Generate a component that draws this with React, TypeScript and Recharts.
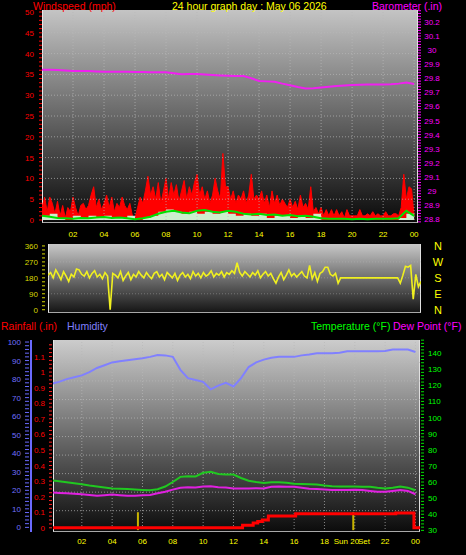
import React from 'react';
import { ComposedChart, Line, Area, XAxis, YAxis, ReferenceLine } from 'recharts';

// wind gust (mph), one value every 10 minutes from 00:00
const gust = [
  3, 5.5, 2, 5.5, 4, 1.5,
  4.5, 1, 3.5, 0.5, 3, 2,
  5.5, 3, 1, 3.5, 4, 2.5,
  3.5, 6, 8, 3, 5, 2.5,
  4, 6, 3, 5.5, 2, 4,
  3, 5.5, 3.5, 2.5, 4, 1,
  0.5, 3, 5.5, 4, 7, 10.5,
  6, 8, 5, 9, 4, 7,
  10, 5, 9, 6, 8.5, 4.5,
  7, 9.5, 5, 8, 6, 9,
  11, 6, 8, 5, 7, 4,
  6, 10, 7, 5, 16, 8,
  8, 5, 7, 4, 6, 5,
  7, 4, 6, 11, 5, 6,
  5, 7, 4, 6, 3, 7,
  4, 6, 3.5, 5, 4, 3,
  5, 3, 4.5, 2.5, 6, 3,
  4, 2.5, 8, 2, 3, 1.5,
  3, 1, 2.5, 1, 2.5, 1,
  2.5, 1, 2, 0.5, 2.5, 1,
  1, 1, 1, 2.5, 1, 1,
  1.5, 1, 2, 1, 1.5, 1,
  1, 2, 1, 1, 1.5, 1.5,
  1, 3, 11, 5, 8, 7.5,
  1,
];

// wind speed and average (mph), every 30 minutes
const windSpeed = [
  1, 1.5, 0.5, 0, 1, 0.5, 1, 0.5, 1, 0.5, 0.5, 1, 0, 0.5, 1, 2, 2.5, 2, 1.5, 2, 1.5, 2, 1.5, 2, 1.5,
  1, 1.5, 1, 1.5, 0.5, 1, 1, 0.5, 1, 0.5, 1.5, 0, 0, 0, 0, 0, 0, 0, 0, 0, 0, 0.5, 1.5, 0.5,
];
const windAvg = [
  1, 0.8, 0.5, 0.4, 0.3, 0.5, 0.4, 0.6, 0.7, 0.5, 0.6, 0.4, 0.2, 0.4, 0.8, 1.5, 2, 2.2, 1.8, 1.6, 2.2, 2.4, 2, 1.8, 2.2,
  2, 1.5, 1.3, 1.5, 1.2, 1.3, 1, 1.2, 0.9, 1, 0.8, 0.4, 0.3, 0.3, 0.3, 0.2, 0.3, 0.2, 0.3, 0.3, 0.3, 0.4, 2.2, 1,
];

// barometer (in), every 30 minutes
const barometer = [
  29.86, 29.86, 29.859, 29.856, 29.852, 29.852, 29.851, 29.849, 29.847, 29.847, 29.847, 29.846, 29.845,
  29.844, 29.843, 29.843, 29.843, 29.836, 29.828, 29.83, 29.831, 29.827, 29.823, 29.82, 29.818,
  29.817, 29.816, 29.8, 29.781, 29.778, 29.776, 29.762, 29.75, 29.738, 29.728, 29.73, 29.735,
  29.74, 29.745, 29.749, 29.752, 29.754, 29.755, 29.756, 29.756, 29.758, 29.762, 29.77, 29.76,
];

// wind direction (degrees), every 10 minutes
const windDir = [
  195, 210, 180, 225, 200, 170,
  215, 190, 160, 200, 185, 230,
  225, 200, 190, 215, 180, 205,
  220, 185, 200, 175, 210, 190,
  0, 205, 195, 180, 215, 165,
  190, 210, 170, 200, 185, 215,
  195, 180, 210, 190, 175, 205,
  215, 185, 200, 170, 210, 195,
  180, 205, 165, 195, 210, 185,
  200, 175, 215, 190, 205, 180,
  210, 190, 200, 220, 185, 205,
  195, 215, 185, 210, 200, 220,
  205, 265, 210, 190, 215, 200,
  185, 210, 195, 220, 180, 200,
  215, 190, 205, 175, 150, 185,
  210, 170, 195, 225, 190, 205,
  185, 200, 215, 190, 180, 250,
  175, 210, 160, 205, 215, 240,
  240, 200, 190, 205, 150, 180,
  180, 180, 180, 180, 180, 180,
  180, 180, 180, 180, 180, 180,
  180, 180, 180, 180, 180, 180,
  180, 180, 180, 180, 150, 195,
  245, 240, 250, 60, 200, 130,
  160,
];

// humidity (%), temperature and dew point (F), every 30 minutes
const humidity = [
  77.5, 78.5, 80, 81, 82, 83.8, 86, 87.5, 89, 89.6, 90.2, 90.7, 91.2, 92, 93, 92.8, 92, 85, 80.5, 79.5, 78.5, 74.5,
  76.5, 78, 76, 80.5, 86.5, 89, 90.5, 91.5, 92, 92, 92, 92.8, 93.3, 93.9, 94, 94, 94.2, 95, 95, 95, 95, 95, 95.2,
  96, 96, 96, 94.6,
];
const temperature = [
  61.1, 60.5, 59.8, 59.2, 58.6, 57.8, 57.2, 56.6, 56, 55.8, 55.6, 55.4, 55.1, 54.9, 55.5, 57.2, 60, 63.2, 63.6,
  63.5, 65.7, 66.3, 65, 64.6, 64.6, 62.5, 60.8, 60, 59.4, 59.8, 59.8, 59.5, 59, 58.8, 58.6, 58.4, 57.8, 57.4,
  57.3, 57.2, 57.2, 57.1, 57, 56.4, 56, 56.5, 57.2, 56.5, 54.9,
];
const dewPoint = [
  53.5, 53.2, 53, 52.7, 52.4, 52, 51.5, 51.8, 52.2, 51.8, 51.5, 51.5, 51.8, 52, 53, 54, 55.3, 56.5, 56.8, 56.6,
  57.2, 57.4, 56.8, 56.6, 56, 56, 56, 56.2, 56, 57, 57.2, 57, 57, 56.5, 55.8, 55.6, 55.3, 55, 55, 55, 55.2, 55,
  54.5, 54, 53.9, 54.5, 55, 54.5, 52.4,
];

// rainfall total (in) steps
const rainHours = [0, 12.6, 13.3, 13.6, 13.9, 14.3, 16.1, 22.7, 23.9, 24.3];
const rainTotal = [0, 0.017, 0.03, 0.04, 0.05, 0.075, 0.09, 0.095, 0, 0];
const sunMarks = [5.7, 19.9];

const hourTicks = [2, 4, 6, 8, 10, 12, 14, 16, 18, 20, 22, 24];
const windGrid = [5, 10, 15, 20, 25, 30, 35, 40, 45];
const dirGrid = [90, 180, 270];
const humGrid = [9, 19, 29, 39, 49, 59, 69, 79, 89];
const compass = ['N', 'E', 'S', 'W', 'N'];

const FONT = '"Liberation Sans", Arial, sans-serif';

const range = (a: number, b: number, s: number) => {
  const out: number[] = [];
  for (let i = 0; a + i * s <= b + 1e-9; i++) out.push(Math.round((a + i * s) * 1000) / 1000);
  return out;
};
const series = (vals: number[], step: number) => vals.map((v, i) => ({ h: i * step, v }));
const fmtHour = (h: number) => String(h % 24).padStart(2, '0');

const gustData = series(gust, 1 / 6);
const speedData = series(windSpeed, 0.5);
const avgData = series(windAvg, 0.5);
const baroData = series(barometer, 0.5);
const dirData = series(windDir, 1 / 6);
const humData = series(humidity, 0.5);
const tempData = series(temperature, 0.5);
const dewData = series(dewPoint, 0.5);
const rainData = rainHours.map((h, i) => ({ h, v: rainTotal[i] }));

const hourTick = (dy: number) => (p: any) => (
  <text x={p.x} y={p.y + dy} textAnchor="middle" fill="#ffff00" fontSize={8}>
    {fmtHour(p.payload.value)}
  </text>
);

const WindTick = (p: any) => {
  const v = p.payload.value;
  return (
    <g>
      <line x1={p.x - 3} x2={p.x} y1={p.y} y2={p.y} stroke="#ff0000" />
      {v % 5 === 0 && (
        <text x={p.x - 8} y={p.y + 3} textAnchor="end" fill="#ff0000" fontSize={8}>{v}</text>
      )}
    </g>
  );
};

const BaroTick = (p: any) => {
  const v = p.payload.value;
  const major = Math.round(v * 100) % 10 === 0;
  return (
    <g>
      <line x1={p.x} x2={p.x + 3} y1={p.y} y2={p.y} stroke="#ff00ff" />
      {major && (
        <text x={p.x + 14} y={p.y + 3} textAnchor="middle" fill="#ff00ff" fontSize={8}>
          {Math.round(v * 10) / 10}
        </text>
      )}
    </g>
  );
};

const DirTick = (p: any) => {
  const v = p.payload.value;
  return (
    <g>
      <line x1={p.x - 6} x2={p.x - 3} y1={p.y} y2={p.y} stroke="#d8d800" />
      {v % 90 === 0 && (
        <text x={p.x - 10} y={p.y + 3} textAnchor="end" fill="#d8d800" fontSize={8}>{v}</text>
      )}
    </g>
  );
};

const CompassTick = (p: any) => (
  <text x={p.x + 17} y={p.y + 4} textAnchor="middle" fill="#ffff00" fontSize={11}>
    {compass[Math.round(p.payload.value / 90)]}
  </text>
);

const RainTick = (p: any) => {
  const v = p.payload.value;
  const major = Math.round(v * 1000) % 100 === 0;
  return (
    <g>
      <line x1={p.x - 4} x2={p.x - 1} y1={p.y} y2={p.y} stroke="#ff2020" />
      {major && (
        <text x={p.x - 8} y={p.y + 3} textAnchor="end" fill="#ff0000" fontSize={8}>
          {Math.round(v * 10) / 10}
        </text>
      )}
    </g>
  );
};

const HumTick = (p: any) => {
  const v = p.payload.value;
  return (
    <g>
      <line x1={p.x - 6} x2={p.x - 2} y1={p.y} y2={p.y} stroke="#6a6aff" />
      {v % 10 === 0 && (
        <text x={p.x - 10} y={p.y + 3} textAnchor="end" fill="#7070ff" fontSize={8}>{v}</text>
      )}
    </g>
  );
};

const TempTick = (p: any) => {
  const v = p.payload.value;
  return (
    <g>
      <line x1={p.x + 1} x2={p.x + 4} y1={p.y} y2={p.y} stroke="#00e000" />
      {v % 10 === 0 && (
        <text x={p.x + 8} y={p.y + 3} textAnchor="start" fill="#00ff00" fontSize={8}>{v}</text>
      )}
    </g>
  );
};

const gridLine = { stroke: '#b8b8b8', strokeDasharray: '1 2', strokeOpacity: 0.7 };

const Title = (props: {
  left: number;
  top: number;
  color: string;
  size?: number;
  align?: 'left' | 'right';
  children: React.ReactNode;
}) => (
  <div
    style={{
      position: 'absolute',
      left: props.align === 'right' ? undefined : props.left,
      right: props.align === 'right' ? 466 - props.left : undefined,
      top: props.top,
      color: props.color,
      fontSize: props.size ?? 10.5,
      lineHeight: `${(props.size ?? 10.5) + 2}px`,
      whiteSpace: 'nowrap',
    }}
  >
    {props.children}
  </div>
);

const plotBg = (left: number, top: number, width: number, height: number, from: string, to: string) => (
  <div
    style={{
      position: 'absolute',
      left,
      top,
      width,
      height,
      boxSizing: 'border-box',
      background: `linear-gradient(${from}, ${to})`,
      borderLeft: '1px solid #e8e8e8',
      borderRight: '1px solid #e0e0e0',
      borderBottom: '1px solid #a8a8a8',
    }}
  />
);

const axisOff = { tickLine: false, axisLine: false, tickSize: 0, tickMargin: 0, interval: 0 as const };

export default function App() {
  return (
    <div
      style={{
        position: 'fixed',
        left: 0,
        top: 0,
        width: 466,
        height: 555,
        background: '#000',
        fontFamily: FONT,
        overflow: 'hidden',
      }}
    >
      {plotBg(42, 10, 376, 213, '#c4c4c4', '#0a0a0a')}
      {plotBg(48, 244, 373, 69, '#c8c8c8', '#161616')}
      {plotBg(53, 340, 367, 192, '#cccccc', '#0c0c0c')}

      <Title left={33} top={0} color="#ff0000">Windspeed (mph)</Title>
      <Title left={172} top={0} color="#ffff00">24 hour graph day : May 06 2026</Title>
      <Title left={372} top={0} color="#ff00ff">Barometer (.in)</Title>
      <Title left={1} top={320} color="#ff0000">Rainfall (.in)</Title>
      <Title left={67} top={320} color="#8080ff">Humidity</Title>
      <Title left={311} top={320} color="#00ff00">Temperature (°F)</Title>
      <Title left={393} top={320} color="#ff00ff">Dew Point (°F)</Title>

      {/* wind speed + barometer */}
      <div style={{ position: 'absolute', left: 0, top: 0 }}>
        <ComposedChart width={466} height={245} margin={{ top: 10, right: 0, bottom: 0, left: 0 }}>
          <XAxis
            dataKey="h"
            type="number"
            domain={[0, 24.25]}
            allowDataOverflow
            ticks={hourTicks}
            height={22}
            tick={hourTick(14)}
            {...axisOff}
          />
          <YAxis
            type="number"
            domain={[-0.72, 50.48]}
            allowDataOverflow
            ticks={range(0, 50, 1)}
            width={42}
            tick={WindTick}
            {...axisOff}
          />
          <YAxis
            yAxisId="baro"
            orientation="right"
            type="number"
            domain={[28.772, 30.285]}
            allowDataOverflow
            ticks={range(28.78, 30.28, 0.02)}
            width={48}
            tick={BaroTick}
            {...axisOff}
          />
          {hourTicks.map((h) => (
            <ReferenceLine key={'v' + h} x={h} {...gridLine} />
          ))}
          {windGrid.map((w) => (
            <ReferenceLine key={'w' + w} y={w} {...gridLine} />
          ))}
          <Area
            data={gustData}
            dataKey="v"
            type="linear"
            stroke="#ff0000"
            fill="#ff0000"
            fillOpacity={1}
            baseValue={0}
            isAnimationActive={false}
          />
          <Area
            data={speedData}
            dataKey="v"
            type="stepAfter"
            stroke="none"
            fill="#cdeecd"
            fillOpacity={1}
            baseValue={0}
            isAnimationActive={false}
          />
          <Line data={avgData} dataKey="v" type="linear" stroke="#00e000" strokeWidth={2} dot={false} activeDot={false} isAnimationActive={false} />
          <Line data={baroData} yAxisId="baro" dataKey="v" type="linear" stroke="#f020f0" strokeWidth={2} dot={false} activeDot={false} isAnimationActive={false} />
        </ComposedChart>
      </div>

      {/* wind direction */}
      <div style={{ position: 'absolute', left: 0, top: 234 }}>
        <ComposedChart width={466} height={84} margin={{ top: 10, right: 0, bottom: 5, left: 0 }}>
          <XAxis dataKey="h" type="number" domain={[0, 24]} allowDataOverflow hide />
          <YAxis
            type="number"
            domain={[-18.5, 371]}
            allowDataOverflow
            ticks={range(0, 360, 22.5)}
            width={48}
            tick={DirTick}
            {...axisOff}
          />
          <YAxis
            yAxisId="cmp"
            orientation="right"
            type="number"
            domain={[-18.5, 371]}
            allowDataOverflow
            ticks={[0, 90, 180, 270, 360]}
            width={45}
            tick={CompassTick}
            {...axisOff}
          />
          {dirGrid.map((d) => (
            <ReferenceLine key={'d' + d} y={d} {...gridLine} strokeOpacity={0.4} />
          ))}
          <Line data={dirData} dataKey="v" type="linear" stroke="#f0f020" strokeWidth={1.6} dot={false} activeDot={false} isAnimationActive={false} />
        </ComposedChart>
      </div>

      {/* rain, humidity, temperature, dew point */}
      <div style={{ position: 'absolute', left: 0, top: 330 }}>
        <ComposedChart width={466} height={225} margin={{ top: 10, right: 0, bottom: 0, left: 0 }}>
          <XAxis
            dataKey="h"
            type="number"
            domain={[0.1, 24.3]}
            allowDataOverflow
            ticks={hourTicks}
            height={23}
            tick={hourTick(12)}
            {...axisOff}
          />
          <YAxis
            type="number"
            domain={[-0.027, 1.206]}
            allowDataOverflow
            ticks={range(0, 1.175, 0.025)}
            width={22}
            tick={RainTick}
            {...axisOff}
          />
          <YAxis
            yAxisId="hum"
            type="number"
            domain={[-2.5, 101.1]}
            allowDataOverflow
            ticks={range(0, 100, 2)}
            width={31}
            tick={HumTick}
            tickLine={false}
            tickSize={0}
            tickMargin={0}
            interval={0}
            axisLine={{ stroke: '#6a6aff', strokeWidth: 2 }}
          />
          <YAxis
            yAxisId="temp"
            orientation="right"
            type="number"
            domain={[29, 148.1]}
            allowDataOverflow
            ticks={range(30, 148, 2)}
            width={46}
            tick={TempTick}
            {...axisOff}
          />
          {hourTicks.map((h) => (
            <ReferenceLine key={'v' + h} x={h} {...gridLine} />
          ))}
          {humGrid.map((g) => (
            <ReferenceLine key={'g' + g} yAxisId="hum" y={g} {...gridLine} />
          ))}
          {sunMarks.map((s) => (
            <ReferenceLine
              key={'s' + s}
              segment={[{ x: s, y: -0.015 }, { x: s, y: 0.1 }]}
              stroke="#c8b400"
              strokeWidth={2}
            />
          ))}
          <Line data={humData} yAxisId="hum" dataKey="v" type="linear" stroke="#8080ff" strokeWidth={2} dot={false} activeDot={false} isAnimationActive={false} />
          <Line data={tempData} yAxisId="temp" dataKey="v" type="linear" stroke="#20c820" strokeWidth={2} dot={false} activeDot={false} isAnimationActive={false} />
          <Line data={dewData} yAxisId="temp" dataKey="v" type="linear" stroke="#e020e0" strokeWidth={2} dot={false} activeDot={false} isAnimationActive={false} />
          <Line data={rainData} dataKey="v" type="stepAfter" stroke="#ff0000" strokeWidth={3} dot={false} activeDot={false} isAnimationActive={false} />
        </ComposedChart>
      </div>

      {/* sunset marker caption, split around the "20" tick label */}
      <Title left={348} top={537} color="#ffff00" size={8} align="right">Sun</Title>
      <Title left={358} top={537} color="#ffff00" size={8}>Set</Title>
    </div>
  );
}
